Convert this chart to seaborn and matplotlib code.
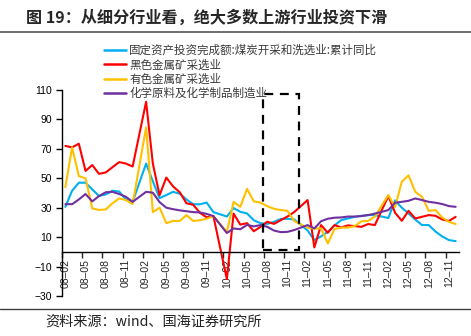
import numpy as np
import pandas as pd
import matplotlib
matplotlib.use("Agg")
import matplotlib.pyplot as plt
from matplotlib.patches import Rectangle
from matplotlib.lines import Line2D
import seaborn as sns

# ---------------- data ----------------
months = [p.strftime("%y-%m") for p in pd.period_range("2008-02", "2012-12", freq="M")]
tick_labels = ["08-02", "08-05", "08-08", "08-11", "09-02", "09-05", "09-08", "09-11",
               "10-02", "10-05", "10-08", "10-11", "11-02", "11-05", "11-08", "11-11",
               "12-02", "12-05", "12-08", "12-11"]

series_names = ["固定资产投资完成额:煤炭开采和洗选业:累计同比", "黑色金属矿采选业",
                "有色金属矿采选业", "化学原料及化学制品制造业"]

coal = [30.6, 41.5, 47, 47, 42.4, 38, 39, 41.5, 41, 35.6, 34, None,
        60, 48, 36.5, 38.6, 40.8, 39.5, 35.6, 32.4, 32.3, 33.5, 27, None,
        24, 29.8, 27.2, 26.1, 21.5, 19.5, 19, 20.4, 22.3, 22.5, 22, None,
        14.5, 8, 10.5, 13.6, 18, 21.6, 22.7, 23.8, 24.5, 25, 25, None,
        23, 35, 30, 26.1, 22, 18.2, 18.2, 13.8, 10.5, 8, 7.3]
ferrous = [72, 71, 73.5, 55, 59, 53, 54, 57.5, 61, 60, 58, None,
           102, 60, 38.5, 50.5, 44.5, 40.5, 33, 32, 26.5, 23.5, 24.3, None,
           -18.5, 26, 18.5, 19.5, 14, 17, 20.5, 19, 21.5, 24, 27, None,
           35.2, 3, 18.2, 13, 18.2, 16.6, 18, 17.5, 17, 18.9, 18.2, None,
           38, 26.6, 21.1, 27.9, 22.7, 23.8, 25, 24.5, 22, 21, 23.8]
nonferrous = [44, 71, 51.5, 50, 29.5, 28.5, 28.8, 33, 36.3, 35.2, 32.5, None,
              84.6, 27, 30, 19.5, 21, 21, 25, 21, 21.5, 22.5, 24.3, None,
              13.6, 34, 30.6, 42.8, 34.3, 33.5, 31, 29.3, 28.4, 27.9, 21, None,
              16.4, 15.9, 15.9, 5.7, 15.5, 16.5, 16.5, 17.5, 20.8, 21, 24, None,
              38.6, 30.5, 47.7, 52, 40.8, 37.4, 27.9, 28.4, 23.4, 20.4, 18.9]
chemical = [32.4, 32.4, 35.6, 39.3, 34.3, 37.9, 40.5, 40.8, 39.3, 37.4, 34, None,
            40.8, 40.2, 33.8, 30, 29, 28.2, 27.6, 27, 26.8, 25.8, 24.3, None,
            12.8, 15.9, 15.4, 18.3, 17.3, 18.2, 17, 14.5, 13.4, 13.6, 14.8, None,
            18.2, 15.9, 20.8, 22.5, 23.2, 23.4, 24, 24, 24.3, 25, 26, None,
            28.4, 33.4, 34, 34.7, 36.3, 35.2, 34, 33.4, 32.5, 31.1, 30.6]

colors = ["#00B0F0", "#FF0000", "#FFC000", "#7030A0"]
y_ticks = [-30, -10, 10, 30, 50, 70, 90, 110]

# ---------------- frame ----------------
rows = []
for name, vals in zip(series_names, [coal, ferrous, nonferrous, chemical]):
    for i, v in enumerate(vals):
        if v is not None:
            rows.append({"idx": i, "month": months[i], "value": v, "series": name})
df = pd.DataFrame(rows)

sns.set_style("white")
plt.rcParams["font.family"] = ["Liberation Sans", "Noto Sans CJK SC", "DejaVu Sans"]
plt.rcParams["axes.unicode_minus"] = True

W, H = 471, 336
fig = plt.figure(figsize=(W / 100, H / 100), dpi=100)
ax = fig.add_axes([62 / W, 1 - 296 / H, (459 - 62) / W, (296 - 90) / H])

sns.lineplot(data=df, x="idx", y="value", hue="series", hue_order=series_names,
             palette=colors, estimator=None, sort=True, legend=False, lw=1.5, ax=ax)

n = len(months)
ax.set_xlim(-0.5, n - 0.5)
ax.set_ylim(-30, 110)
ax.set_xlabel("")
ax.set_ylabel("")

# axes styling
for s in ["top", "right"]:
    ax.spines[s].set_visible(False)
ax.spines["left"].set_color("black")
ax.spines["left"].set_linewidth(1.0)
ax.spines["bottom"].set_position(("data", 0))
ax.spines["bottom"].set_color("black")
ax.spines["bottom"].set_linewidth(1.0)

ax.set_yticks(y_ticks)
ax.set_yticklabels([f"{t}".replace("-", "\u2212") for t in y_ticks], fontsize=7.5)
ax.tick_params(axis="y", direction="out", length=4, width=1, pad=3, colors="black", left=True)

tick_pos = [months.index(t) for t in tick_labels]
ax.set_xticks([p - 0.5 for p in tick_pos])
ax.set_xticklabels([])
ax.set_xticks(tick_pos, minor=True)
ax.set_xticklabels([t.replace("-", "\u2013") for t in tick_labels], minor=True,
                   rotation=90, fontsize=7.5)
ax.tick_params(axis="x", which="major", direction="out", length=4, width=1, bottom=True)
ax.tick_params(axis="x", which="minor", length=0, pad=5, bottom=True)
ax.grid(False)

# dashed box
ax.add_patch(Rectangle((29.4, 1.2), 5.35, 106, fill=False, ec="black", lw=1.6,
                       ls=(0, (4, 3)), zorder=5))

# legend
handles = [Line2D([0], [0], color=c, lw=1.8) for c in colors]
fig.legend(handles, series_names, loc="upper left", bbox_to_anchor=(104 / W, 1 - 44 / H),
           frameon=False, borderpad=0, borderaxespad=0, handlelength=1.95,
           handletextpad=0.25, labelspacing=0.12,
           prop={"family": ["Noto Sans CJK SC"], "size": 8.3}, labelcolor="#3a3a3a")

# title, rules, source
fig.text(26 / W, 1 - 18 / H, "图 19：从细分行业看，绝大多数上游行业投资下滑",
         fontsize=11.6, fontweight="bold", va="center", ha="left",
         family=["Noto Sans CJK SC", "DejaVu Sans"])
fig.add_artist(Line2D([0, 1], [1 - 32 / H, 1 - 32 / H], color="#555555", lw=1.2))
fig.add_artist(Line2D([0, 1], [1 - 309 / H, 1 - 309 / H], color="#404040", lw=1.0))
fig.text(45 / W, 1 - 322 / H, "资料来源：wind、国海证券研究所", fontsize=10.2, va="center",
         ha="left", family=["Noto Sans CJK SC", "DejaVu Sans"], color="#222222")

fig.savefig("out.png", dpi=100)
